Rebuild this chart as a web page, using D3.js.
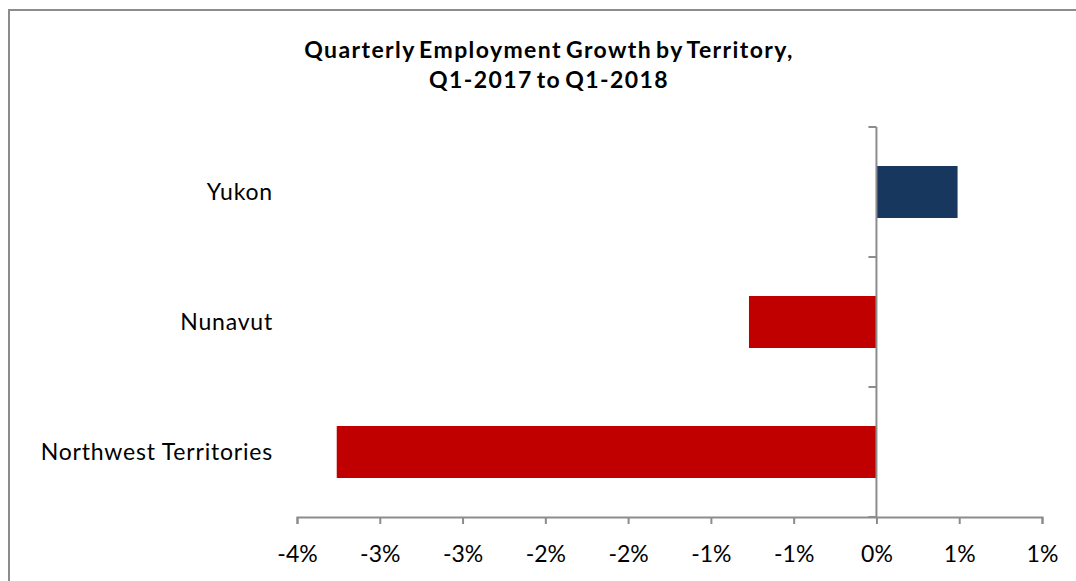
<!DOCTYPE html>
<html><head><meta charset="utf-8">
<script src="https://cdn.jsdelivr.net/npm/d3@7"></script>
<style>html,body{margin:0;padding:0;background:#fff;overflow:hidden}</style>
</head><body>
<svg id="chart" width="1076" height="581"></svg>
<script>
const categories = ["Yukon", "Nunavut", "Northwest Territories"];
const values = [0.49, -0.77, -3.26];
const colors = ["#17375e", "#c00000", "#c00000"];
const tickValues = [-3.5, -3.0, -2.5, -2.0, -1.5, -1.0, -0.5, 0, 0.5, 1.0];
const titleLines = ["Quarterly Employment Growth by Territory,", "Q1-2017 to Q1-2018"];

const svg = d3.select("#chart");
const font = "Lato, 'Open Sans', sans-serif";

// outer frame
svg.append("rect").attr("x", 9).attr("y", 10).attr("width", 1100).attr("height", 600)
  .attr("fill", "none").attr("stroke", "#8c8c8c").attr("stroke-width", 2);

const x = d3.scaleLinear().domain([-3.5, 1.0]).range([297, 1042]);
const y = d3.scaleBand().domain(categories).range([127, 517]).paddingInner(0.6).paddingOuter(0.3);

// bars
svg.selectAll("rect.bar").data(categories).join("rect").attr("class", "bar")
  .attr("x", (d, i) => Math.min(x(0), x(values[i])))
  .attr("width", (d, i) => Math.abs(x(values[i]) - x(0)))
  .attr("y", d => y(d))
  .attr("height", y.bandwidth())
  .attr("fill", (d, i) => colors[i]);

// x axis
const fmtPct = d => Math.round(d + (d < 0 ? -1e-9 : 1e-9)) + "%";
const xAxis = d3.axisBottom(x).tickValues(tickValues).tickSizeInner(7).tickSizeOuter(7)
  .tickPadding(22).tickFormat(fmtPct);
const gx = svg.append("g").attr("transform", "translate(0,517)").call(xAxis);
gx.selectAll("text").attr("font-family", font).attr("font-size", 23).attr("fill", "#000");
gx.selectAll("line,path").attr("stroke", "#8c8c8c").attr("stroke-width", 2);

// y axis at zero
const bandEdges = [127, 257, 387, 517];
svg.append("line").attr("x1", x(0)).attr("x2", x(0)).attr("y1", 127).attr("y2", 517)
  .attr("stroke", "#8c8c8c").attr("stroke-width", 2);
svg.selectAll("line.ytick").data(bandEdges).join("line").attr("class", "ytick")
  .attr("x1", x(0) - 8).attr("x2", x(0)).attr("y1", d => d).attr("y2", d => d)
  .attr("stroke", "#8c8c8c").attr("stroke-width", 2);

// category labels
svg.selectAll("text.cat").data(categories).join("text").attr("class", "cat")
  .attr("x", 273).attr("y", d => y(d) + y.bandwidth() / 2)
  .attr("dy", "0.36em").attr("text-anchor", "end")
  .attr("font-family", font).attr("font-size", 23).attr("letter-spacing", 0.8)
  .attr("fill", "#000")
  .text(d => d);

// title
svg.selectAll("text.title").data(titleLines).join("text").attr("class", "title")
  .attr("x", 549).attr("y", (d, i) => 58 + i * 30)
  .attr("text-anchor", "middle").attr("font-family", font)
  .attr("font-weight", "bold").attr("font-size", 23)
  .attr("letter-spacing", 1.4).attr("word-spacing", -3)
  .attr("fill", "#000")
  .text(d => d);
</script>
</body></html>
